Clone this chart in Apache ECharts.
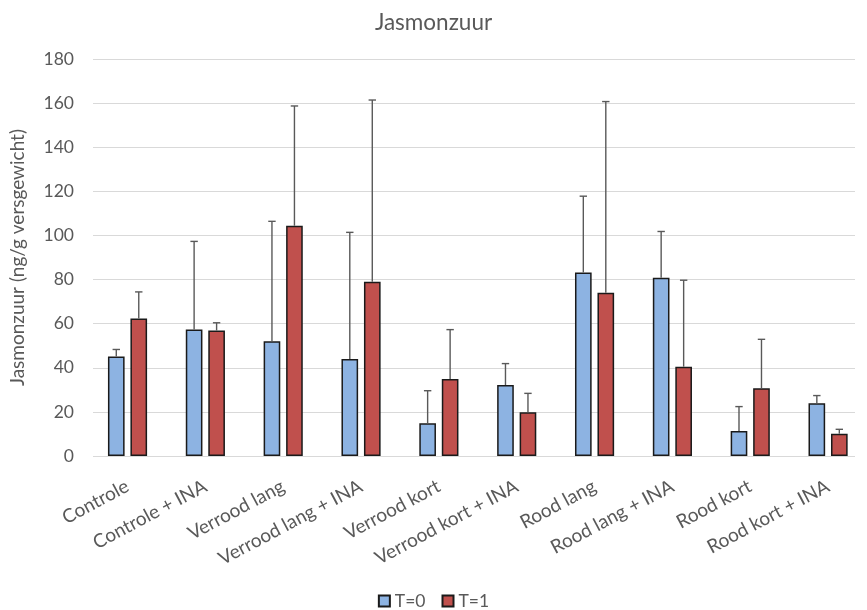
<!DOCTYPE html>
<html><head><meta charset="utf-8">
<script src="https://cdn.jsdelivr.net/npm/echarts@6/dist/echarts.min.js"></script>
<style>html,body{margin:0;padding:0;background:#fff}#c{width:867px;height:610px}</style>
</head><body><div id="c"></div>
<script>
var categories = ['Controle','Controle + INA','Verrood lang','Verrood lang + INA','Verrood kort','Verrood kort + INA','Rood lang','Rood lang + INA','Rood kort','Rood kort + INA'];
var t0Values = [45.1, 57.3, 52.0, 44.0, 14.8, 32.2, 83.2, 80.8, 11.3, 23.9];
var t0Errors = [3.2, 40.0, 54.4, 57.4, 14.8, 9.7, 34.6, 21.0, 11.1, 3.5];
var t1Values = [62.3, 56.9, 104.4, 79.0, 34.9, 19.8, 74.0, 40.5, 30.7, 10.1];
var t1Errors = [12.1, 3.5, 54.3, 82.4, 22.4, 8.6, 86.7, 39.2, 22.2, 2.0];
var yTicks = [0, 20, 40, 60, 80, 100, 120, 140, 160, 180];

var FONT = 'Lato';
var TXT = '#595959';
var BAR_W = 0.214, GAP = 0.35;

function errSeries(vals, errs, side) {
  var data = vals.map(function (v, i) { return [i, v, errs[i]]; });
  return {
    type: 'custom',
    silent: true,
    xAxisIndex: 0, yAxisIndex: 0,
    z: 5,
    renderItem: function (params, api) {
      var i = api.value(0), v = api.value(1), e = api.value(2);
      var bw = api.size([1, 0])[0];
      var barW = bw * BAR_W;
      var off = side * (barW + barW * GAP) / 2;
      var p0 = api.coord([i, v]);
      var p1 = api.coord([i, v + e]);
      var x = p0[0] + off;
      var cap = 3.7;
      var st = { stroke: '#595959', lineWidth: 1.4 };
      return {
        type: 'group',
        children: [
          { type: 'line', shape: { x1: x, y1: p0[1], x2: x, y2: p1[1] }, style: st },
          { type: 'line', shape: { x1: x - cap, y1: p1[1], x2: x + cap, y2: p1[1] }, style: st }
        ]
      };
    },
    data: data
  };
}

var chart = echarts.init(document.getElementById('c'));
chart.setOption({
  animation: false,
  textStyle: { fontFamily: FONT },
  title: {
    text: 'Jasmonzuur', left: 'center', top: 6,
    textStyle: { fontFamily: FONT, fontSize: 22.5, fontWeight: 'normal', color: TXT }
  },
  legend: {
    top: 587, left: 'center',
    itemWidth: 11, itemHeight: 11, itemGap: 16,
    textStyle: { fontFamily: FONT, fontSize: 17.5, color: TXT },
    data: [
      { name: 'T=0', icon: 'rect' },
      { name: 'T=1', icon: 'rect' }
    ]
  },
  grid: [
    { left: 88.6, width: 786, top: 59, bottom: 154, containLabel: false },
    { left: 88, right: 12, top: 59, bottom: 154, containLabel: false }
  ],
  xAxis: [
    {
      gridIndex: 0, type: 'category',
      data: categories,
      axisLine: { show: false },
      axisTick: { show: false },
      axisLabel: { rotate: 28, interval: 0, fontFamily: FONT, fontSize: 19, color: TXT, margin: 29 }
    },
    {
      gridIndex: 1, type: 'value', min: 0, max: 1, show: false
    }
  ],
  yAxis: [
    {
      gridIndex: 0, type: 'value', min: 0, max: 180, interval: 20,
      show: false, splitLine: { show: false }
    },
    {
      gridIndex: 1, type: 'value', min: 0, max: 180, interval: 20,
      name: 'Jasmonzuur (ng/g versgewicht)',
      nameLocation: 'middle', nameGap: 66, nameRotate: 90,
      nameTextStyle: { fontFamily: FONT, fontSize: 19, color: TXT },
      axisLine: { show: false },
      axisTick: { show: false },
      axisLabel: {
        fontFamily: FONT, fontSize: 17.5, color: TXT, margin: 19,
        formatter: function (v) { return yTicks.indexOf(v) >= 0 ? String(v) : ''; }
      },
      splitLine: { lineStyle: { color: '#d9d9d9', width: 1.2 } }
    }
  ],
  series: [
    {
      name: 'T=0', type: 'bar', data: t0Values, xAxisIndex: 0, yAxisIndex: 0,
      barWidth: (BAR_W * 100) + '%', barGap: (GAP * 100) + '%',
      itemStyle: { color: '#8DB3E2', borderColor: '#1a1a1a', borderWidth: 1.5 }
    },
    {
      name: 'T=1', type: 'bar', data: t1Values, xAxisIndex: 0, yAxisIndex: 0,
      barWidth: (BAR_W * 100) + '%', barGap: (GAP * 100) + '%',
      itemStyle: { color: '#C0504D', borderColor: '#1a1a1a', borderWidth: 1.5 }
    },
    errSeries(t0Values, t0Errors, -1),
    errSeries(t1Values, t1Errors, 1)
  ]
});
</script>
</body></html>
